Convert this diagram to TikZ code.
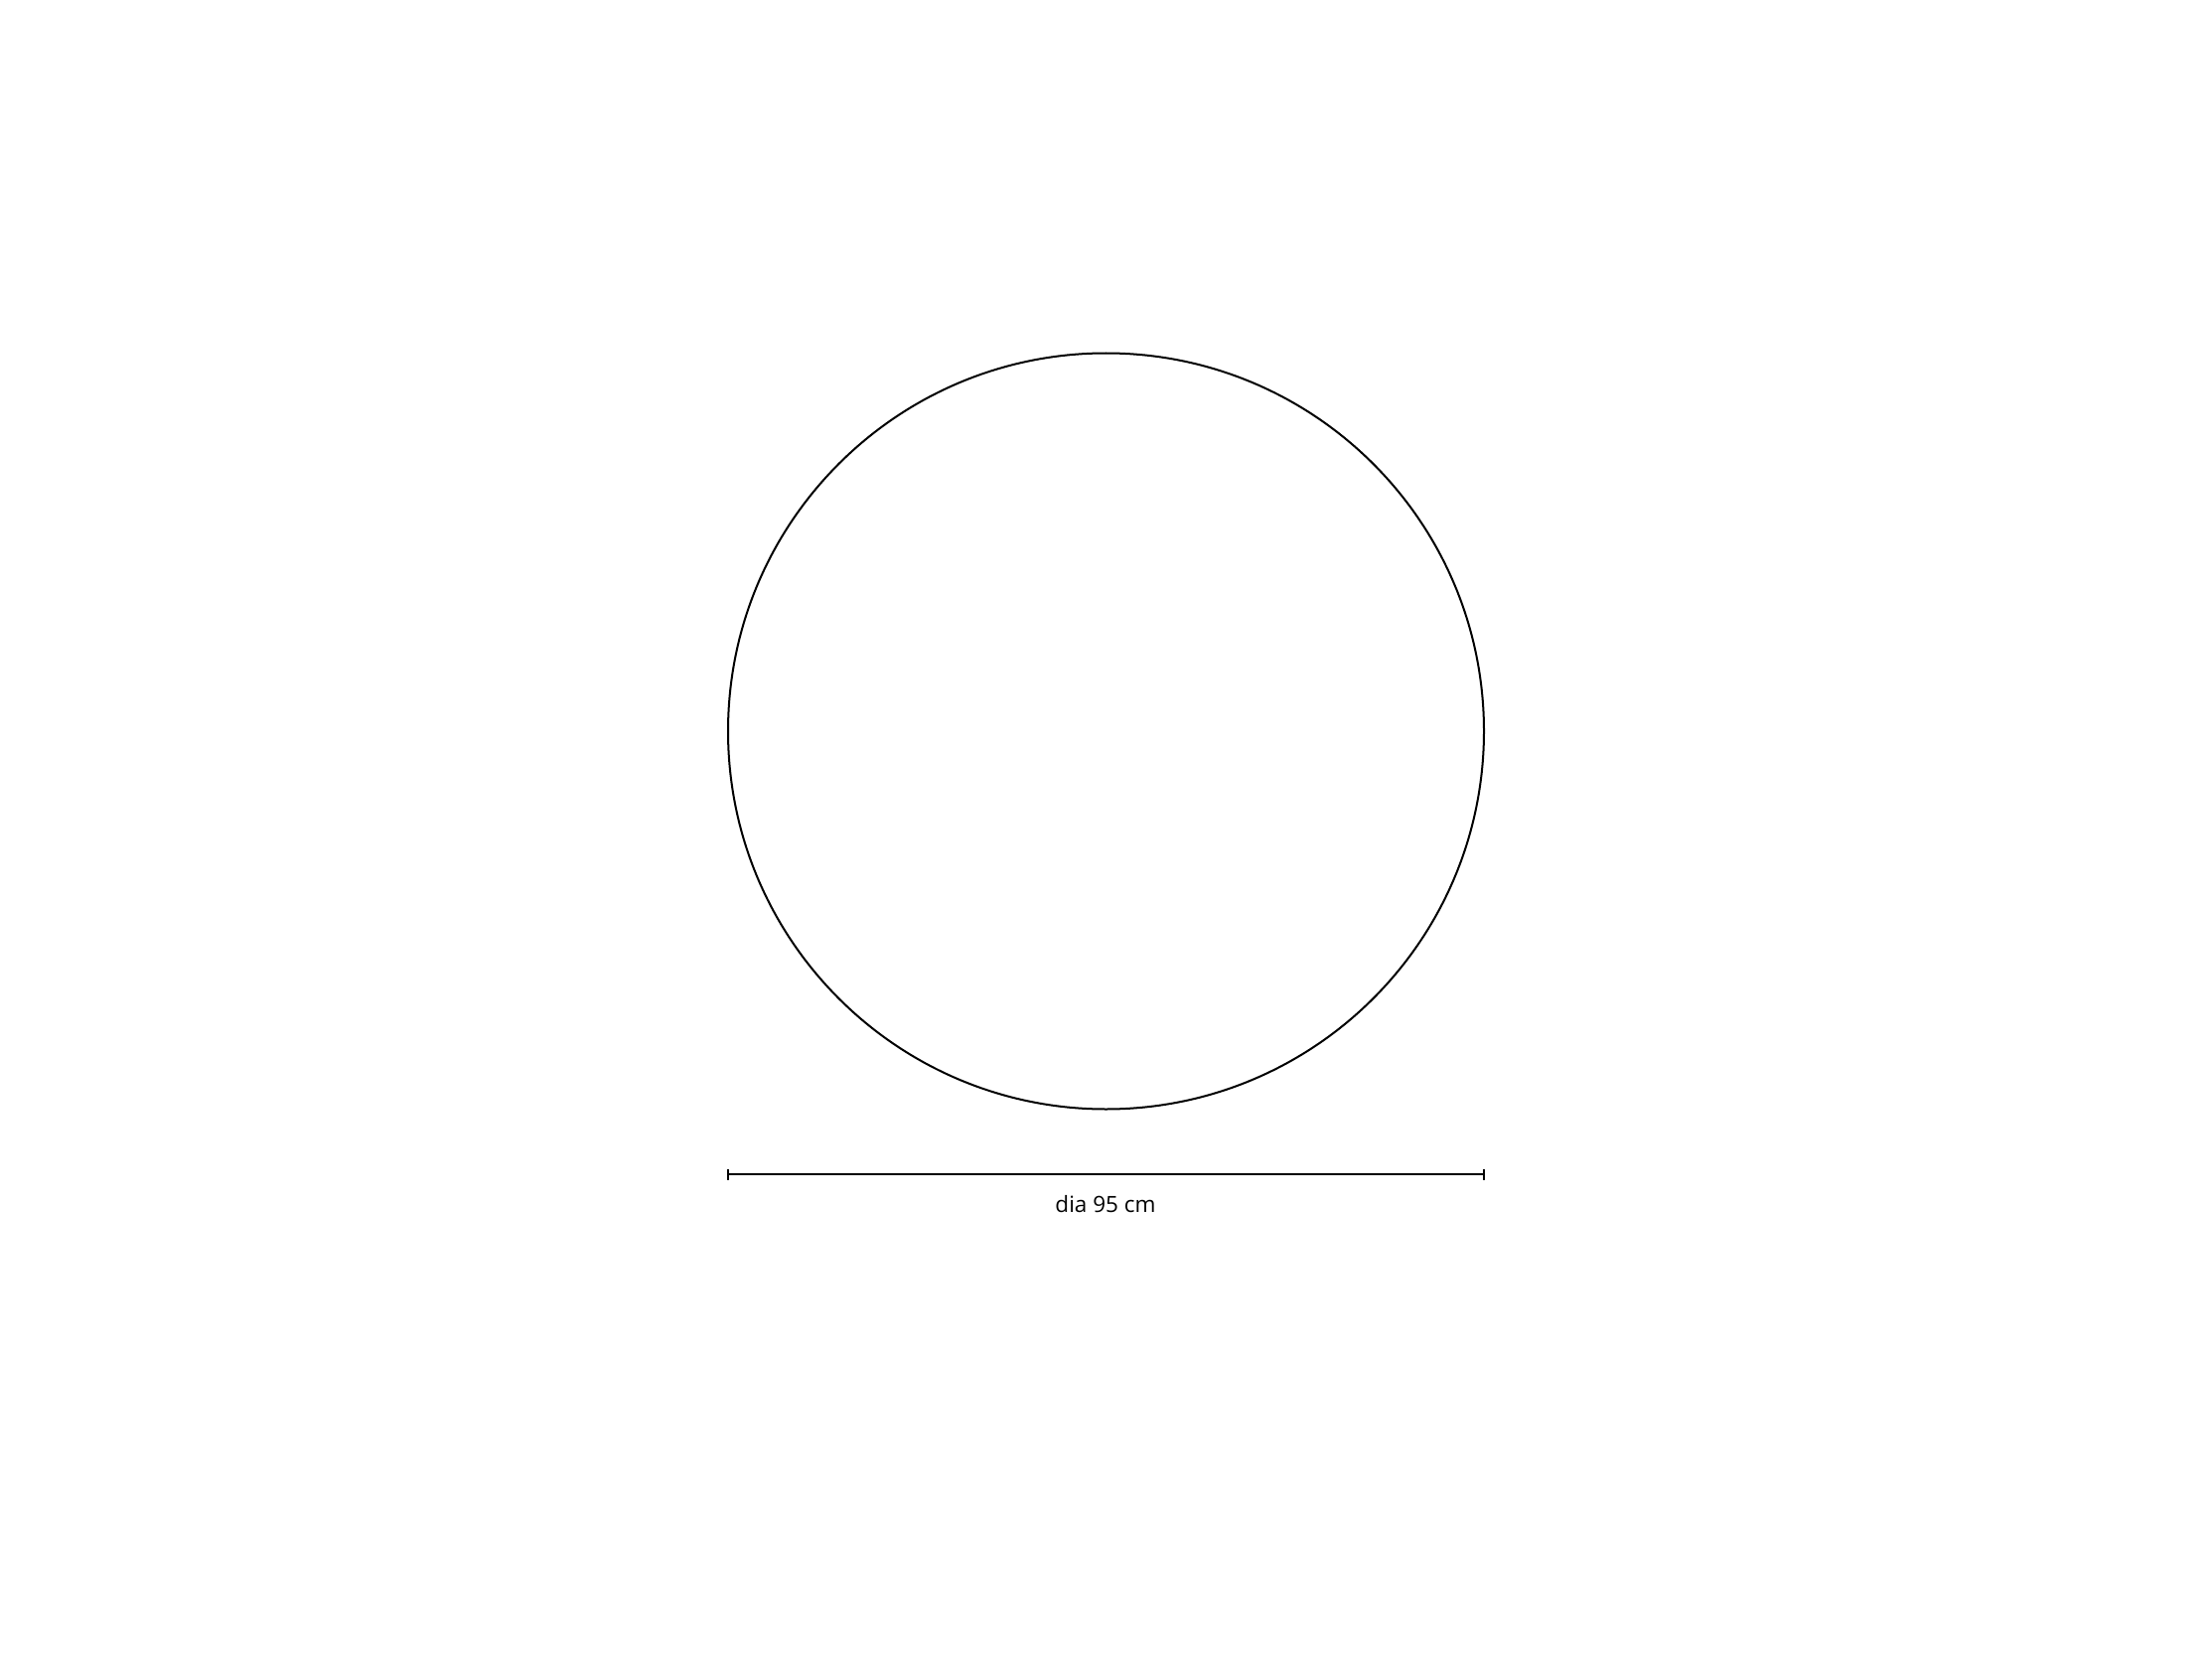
\documentclass[tikz,border=0pt]{standalone}
\usepackage{fontspec}
\setmainfont{Open Sans}
\begin{document}
\begin{tikzpicture}[x=1pt,y=-1pt,
  outline/.style={line width=2pt,draw=black},
  dimline/.style={line width=2.6pt,draw=black},
  dimtick/.style={line width=2pt,draw=black},
  dimlabel/.style={font=\fontsize{22.5}{26}\selectfont,anchor=base,inner sep=0pt}]
\useasboundingbox (0,0) rectangle (2227,1669);
\node[circle,outline,minimum size=761pt,inner sep=0pt] (mirror) at (1113.5,736) {};
\coordinate (dl) at (733,1182);
\coordinate (dr) at (1494,1182);
\draw[dimline] (dl) -- (dr);
\draw[dimtick] ([yshift=-5.5pt]dl) -- ([yshift=5.5pt]dl);
\draw[dimtick] ([yshift=-5.5pt]dr) -- ([yshift=5.5pt]dr);
\node[dimlabel] (lab) at (1113,1220) {dia 95 cm};
\end{tikzpicture}
\end{document}
